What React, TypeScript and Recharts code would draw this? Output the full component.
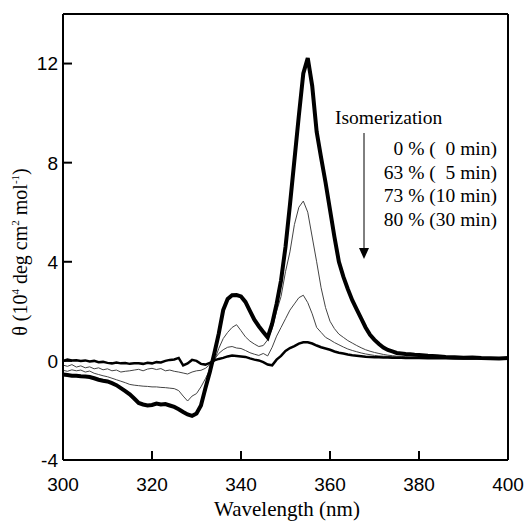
import React from 'react';
import { LineChart, Line, XAxis, YAxis, ReferenceLine } from 'recharts';

const wavelengths = [
  300, 301, 302, 303, 304, 305, 306, 307, 308, 309,
  310, 311, 312, 313, 314, 315, 316, 317, 318, 319,
  320, 321, 322, 323, 324, 325, 326, 327, 328, 329,
  330, 331, 332, 333, 334, 335, 336, 337, 338, 339,
  340, 341, 342, 343, 344, 345, 346, 347, 348, 349,
  350, 351, 352, 353, 354, 355, 356, 357, 358, 359,
  360, 361, 362, 363, 364, 365, 366, 367, 368, 369,
  370, 371, 372, 373, 374, 375, 376, 377, 378, 379,
  380, 382, 384, 386, 388, 390, 392, 394, 396, 398, 400,
];

// 0 % (0 min)
const theta0 = [
  -0.55, -0.57, -0.6, -0.6, -0.62, -0.63, -0.65, -0.7, -0.76, -0.8,
  -0.83, -0.9, -0.98, -1.1, -1.22, -1.35, -1.52, -1.7, -1.76, -1.8,
  -1.78, -1.72, -1.76, -1.74, -1.8, -1.86, -1.95, -2.06, -2.16, -2.22,
  -2.12, -1.8, -1.1, -0.45, 0.3, 1.1, 2.05, 2.5, 2.65, 2.66,
  2.6, 2.38, 2.02, 1.66, 1.4, 1.17, 0.95, 1.5, 2.3, 3.25,
  4.6, 6.3, 8.1, 9.9, 11.6, 12.22, 11.1, 9.25, 8.2, 7.2,
  6.1, 5.0, 4.0, 3.4, 2.9, 2.45, 2.08, 1.72, 1.35, 1.05,
  0.85, 0.68, 0.54, 0.44, 0.38, 0.32, 0.3, 0.28, 0.27, 0.25,
  0.24, 0.21, 0.19, 0.16, 0.15, 0.13, 0.14, 0.12, 0.11, 0.1, 0.12,
];

// 63 % (5 min)
const theta63 = [
  -0.38, -0.42, -0.36, -0.4, -0.37, -0.45, -0.41, -0.5, -0.55, -0.6,
  -0.64, -0.7, -0.76, -0.82, -0.88, -0.95, -0.98, -1.0, -1.02, -1.03,
  -1.05, -1.05, -1.07, -1.08, -1.1, -1.12, -1.2, -1.42, -1.62, -1.42,
  -1.32, -1.05, -0.72, -0.35, 0.0, 0.5, 0.9, 1.15, 1.35, 1.46,
  1.22, 0.97, 0.8, 0.68, 0.58, 0.62, 0.85, 1.3, 2.0, 2.6,
  3.6, 4.4, 5.5, 6.2, 6.45, 6.0, 5.0, 4.0, 2.95, 2.15,
  1.6, 1.3, 1.08, 0.95, 0.82, 0.72, 0.62, 0.53, 0.45, 0.39,
  0.34, 0.3, 0.26, 0.23, 0.21, 0.19, 0.18, 0.17, 0.16, 0.15,
  0.15, 0.14, 0.13, 0.13, 0.12, 0.12, 0.12, 0.11, 0.11, 0.1, 0.11,
];

// 73 % (10 min)
const theta73 = [
  -0.17, -0.22, -0.15, -0.25, -0.2, -0.28, -0.24, -0.32, -0.28, -0.36,
  -0.32, -0.4, -0.37, -0.45, -0.42, -0.4, -0.37, -0.34, -0.4, -0.33,
  -0.3, -0.35, -0.31, -0.4, -0.37, -0.42, -0.45, -0.49, -0.53, -0.45,
  -0.4, -0.38, -0.3, -0.15, 0.05, 0.3, 0.45, 0.55, 0.58, 0.52,
  0.5, 0.42, 0.33, 0.27, 0.22, 0.3, 0.2, 0.55, 1.0, 1.35,
  1.7, 2.05, 2.3, 2.55, 2.65, 2.35, 1.9, 1.35, 1.15, 0.95,
  0.85, 0.74, 0.65, 0.56, 0.48, 0.42, 0.37, 0.32, 0.28, 0.25,
  0.22, 0.2, 0.19, 0.18, 0.17, 0.16, 0.15, 0.15, 0.14, 0.14,
  0.13, 0.13, 0.12, 0.12, 0.12, 0.11, 0.11, 0.11, 0.1, 0.1, 0.11,
];

// 80 % (30 min)
const theta80 = [
  0.0, 0.05, 0.02, 0.03, 0.0, 0.02, -0.02, 0.0, -0.05, -0.04,
  -0.08, -0.1, -0.07, -0.1, -0.09, -0.12, -0.1, -0.1, -0.12, -0.08,
  -0.1, -0.05, -0.06, 0.0, 0.04, 0.06, 0.12, -0.18, -0.1, 0.04,
  0.0, -0.12, -0.15, -0.08, 0.02, 0.08, 0.12, 0.18, 0.22, 0.2,
  0.18, 0.16, 0.1, 0.05, 0.02, -0.05, -0.15, -0.18, 0.05, 0.2,
  0.4, 0.52, 0.6, 0.7, 0.75, 0.75, 0.7, 0.62, 0.55, 0.5,
  0.45, 0.38, 0.33, 0.3, 0.26, 0.23, 0.21, 0.19, 0.17, 0.16,
  0.15, 0.15, 0.14, 0.14, 0.13, 0.13, 0.13, 0.12, 0.12, 0.12,
  0.12, 0.11, 0.11, 0.11, 0.1, 0.1, 0.1, 0.1, 0.1, 0.09, 0.1,
];

const xTicks = [300, 320, 340, 360, 380, 400];
const yTicks = [-4, 0, 4, 8, 12];
const legendLines = ['0 % (  0 min)', '63 % (  5 min)', '73 % (10 min)', '80 % (30 min)'];

const data = wavelengths.map((nm, i) => ({
  nm,
  t0: theta0[i],
  t63: theta63[i],
  t73: theta73[i],
  t80: theta80[i],
}));

const tickFont = '"Liberation Sans", Arial, sans-serif';
const serif = '"Liberation Serif", "Times New Roman", serif';

const YTick = ({ x, y, payload }: any) => (
  <g>
    <line x1={x} x2={x + 9} y1={y} y2={y} stroke="#000" strokeWidth={2} />
    <text x={x - 5} y={y} dy="0.36em" textAnchor="end" fontSize={19} fontFamily={tickFont} fill="#000">
      {payload.value}
    </text>
  </g>
);

const XTick = ({ x, y, payload }: any) => (
  <g>
    <line x1={x} x2={x} y1={y} y2={y - 9} stroke="#000" strokeWidth={2} />
    <text x={x} y={y + 31} textAnchor="middle" fontSize={19} fontFamily={tickFont} fill="#000">
      {payload.value}
    </text>
  </g>
);

const App: React.FC = () => {
  return (
    <div style={{ position: 'absolute', left: 0, top: 0, width: 529, height: 523, background: '#fff' }}>
      <LineChart width={529} height={523} data={data} margin={{ top: 14, right: 21, bottom: 0, left: 0 }}>
        <XAxis
          dataKey="nm"
          type="number"
          domain={[300, 400]}
          ticks={xTicks}
          height={63}
          tickSize={0}
          tickMargin={0}
          tickLine={false}
          tick={<XTick />}
          axisLine={{ stroke: '#000', strokeWidth: 2 }}
        />
        <YAxis
          type="number"
          domain={[-4, 14]}
          ticks={yTicks}
          width={63}
          tickSize={0}
          tickMargin={0}
          tickLine={false}
          tick={<YTick />}
          axisLine={{ stroke: '#000', strokeWidth: 2 }}
        />
        <ReferenceLine x={400} stroke="#000" strokeWidth={2} />
        <ReferenceLine y={14} stroke="#000" strokeWidth={2} />
        <Line dataKey="t63" type="linear" stroke="#444" strokeWidth={1} dot={false} isAnimationActive={false} />
        <Line dataKey="t73" type="linear" stroke="#444" strokeWidth={1} dot={false} isAnimationActive={false} />
        <Line dataKey="t80" type="linear" stroke="#000" strokeWidth={2.5} dot={false} isAnimationActive={false} />
        <Line dataKey="t0" type="linear" stroke="#000" strokeWidth={4} dot={false} isAnimationActive={false} />
      </LineChart>
      <svg width={529} height={523} style={{ position: 'absolute', left: 0, top: 0, pointerEvents: 'none' }}>
        <text x={287} y={516} textAnchor="middle" fontSize={21} fontFamily={serif} fill="#000">
          Wavelength (nm)
        </text>
        <text
          transform="translate(27,252) rotate(-90)"
          textAnchor="middle"
          fontSize={20}
          fontFamily={serif}
          fill="#000"
        >
          θ (10<tspan fontSize={11} dy={-8}>4</tspan>
          <tspan dy={8}> deg cm</tspan>
          <tspan fontSize={11} dy={-8}>2</tspan>
          <tspan dy={8}> mol</tspan>
          <tspan fontSize={11} dy={-8}>-1</tspan>
          <tspan dy={8}>)</tspan>
        </text>
        <text x={335} y={124} fontSize={19.5} fontFamily={serif} fill="#000">
          Isomerization
        </text>
        {legendLines.map((s, i) => (
          <text
            key={s}
            x={497}
            y={155 + i * 23.5}
            textAnchor="end"
            fontSize={19.5}
            fontFamily={serif}
            fill="#000"
            style={{ whiteSpace: 'pre' }}
          >
            {s}
          </text>
        ))}
        <line x1={364} x2={364} y1={133} y2={249} stroke="#000" strokeWidth={1} />
        <polygon points="359,248 369,248 364,259" fill="#000" />
      </svg>
    </div>
  );
};

export default App;
